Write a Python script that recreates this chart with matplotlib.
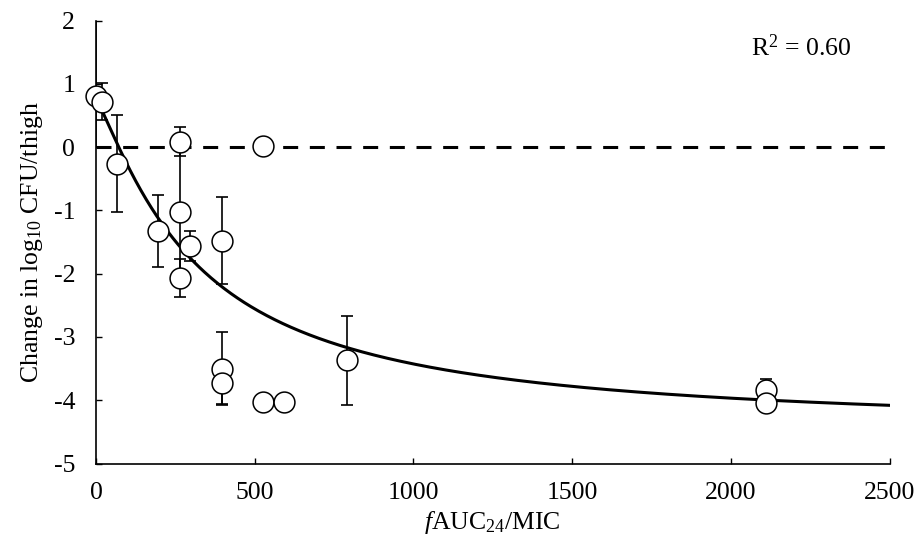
import numpy as np
import matplotlib
matplotlib.use("Agg")
import matplotlib.pyplot as plt

plt.rcParams['font.family'] = ['Liberation Serif', 'DejaVu Serif']
plt.rcParams['mathtext.fontset'] = 'custom'
plt.rcParams['mathtext.rm'] = 'Liberation Serif'
plt.rcParams['mathtext.it'] = 'Liberation Serif:italic'
plt.rcParams['axes.unicode_minus'] = False
plt.rcParams['lines.scale_dashes'] = False

# exposure (fAUC24/MIC) and change in log10 CFU per thigh
auc_mic = [0, 18, 66, 196, 264, 264, 264, 296, 396, 396, 396, 526, 526, 592, 792, 2110, 2110]
delta_cfu = [0.81, 0.72, -0.26, -1.32, 0.09, -1.02, -2.07, -1.56, -1.48, -3.50, -3.73,
             0.02, -4.03, -4.03, -3.37, -3.83, -4.04]
err_low = [0.81, 0.29, 0.77, 0.57, 0.23, 1.05, 0.30, 0.24, 0.69, 0.58, 0.33,
           0, 0, 0, 0.70, 0.17, 0]
err_high = [1.19, 0.29, 0.77, 0.57, 0.23, 1.05, 0.30, 0.24, 0.69, 0.58, 0.33,
            0, 0, 0, 0.70, 0.17, 0]

# sigmoid Emax fit
e0 = 0.75
emax = 5.24
ec50 = 320.0
hill = 1.2
r2_text = 'R$^2$ = 0.60'

x_ticks = [0, 500, 1000, 1500, 2000, 2500]
y_ticks = [-5, -4, -3, -2, -1, 0, 1, 2]

xfit = np.linspace(0, 2500, 600)
yfit = e0 - emax * xfit**hill / (ec50**hill + xfit**hill)

fs = 18.5

fig = plt.figure(figsize=(9.2, 5.52), dpi=100)
ax = fig.add_axes([0.1043, 0.1603, 0.8627, 0.8022])

ax.axhline(0, color='black', lw=2.2, dashes=[10.8, 8.4], zorder=1)
ax.plot(xfit, yfit, color='black', lw=2.2, zorder=2)
ax.errorbar(auc_mic, delta_cfu, yerr=[err_low, err_high], fmt='none',
            ecolor='black', elinewidth=1.2, capsize=4, capthick=1.2, zorder=3)
ax.plot(auc_mic, delta_cfu, 'o', ms=15, mfc='white', mec='black', mew=1.1,
        zorder=4, clip_on=False)

ax.text(2220, 1.58, r2_text, ha='center', va='center', fontsize=fs)

ax.set_xlim(0, 2500)
ax.set_ylim(-5, 2)
ax.set_xticks(x_ticks)
ax.set_yticks(y_ticks)
ax.tick_params(direction='in', length=4.5, width=1.0, labelsize=fs)
ax.tick_params(axis='y', pad=15)
ax.tick_params(axis='x', pad=13)
for side in ['top', 'right']:
    ax.spines[side].set_visible(False)
for side in ['left', 'bottom']:
    ax.spines[side].set_linewidth(1.2)

ax.set_xlabel(r'$f$AUC$_{24}$/MIC', fontsize=fs, labelpad=4)
ax.set_ylabel(r'Change in log$_{10}$ CFU/thigh', fontsize=fs, labelpad=6)

fig.savefig('out.png', dpi=100)
